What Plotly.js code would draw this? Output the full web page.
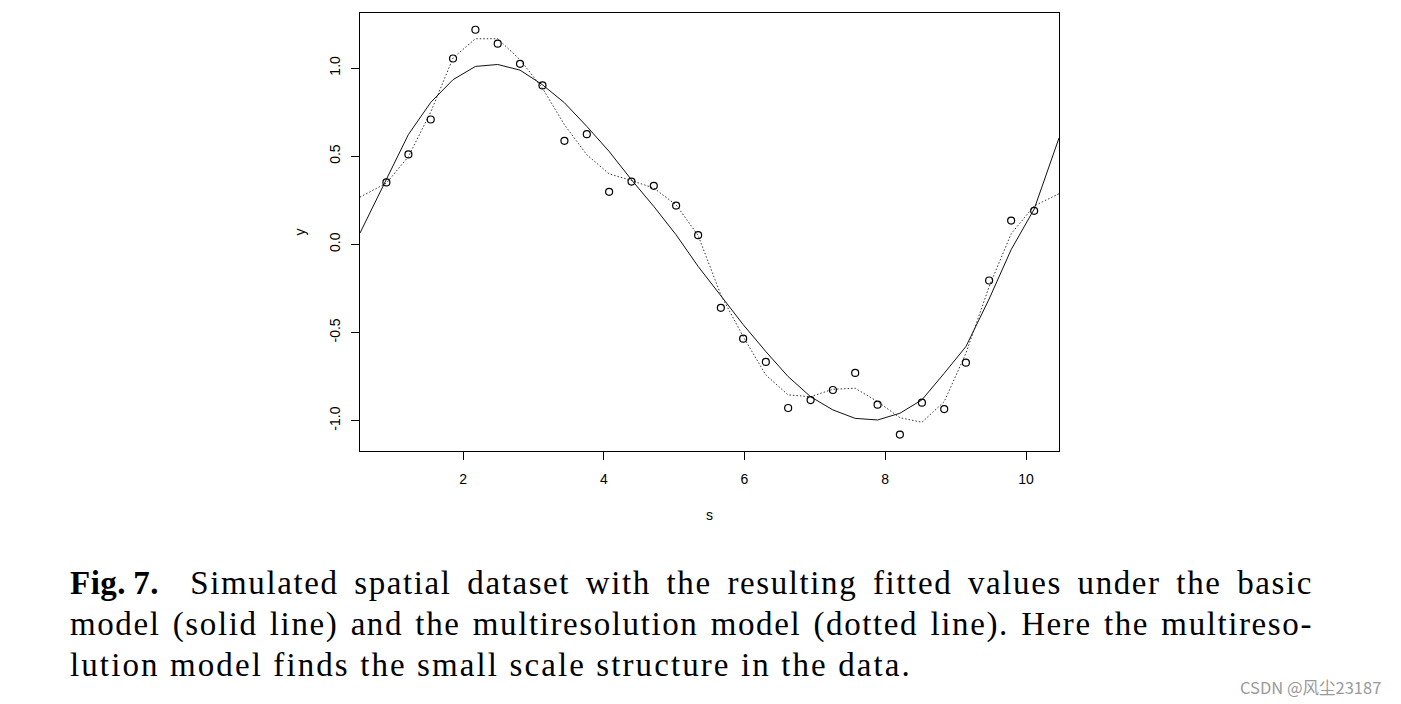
<!DOCTYPE html>
<html>
<head>
<meta charset="utf-8">
<script src="https://cdn.plot.ly/plotly-3.0.1.min.js"></script>
<style>
  html, body { margin: 0; padding: 0; background: #fff; }
  #wrap { position: relative; width: 1401px; height: 704px; overflow: hidden; }
  #chart { position: absolute; left: 0; top: 0; width: 1401px; height: 704px; }
  #caption { position: absolute; left: 70px; top: 563px; width: 1243px;
    font-family: "Liberation Serif", "DejaVu Serif", serif; font-size: 33px; line-height: 41px;
    letter-spacing: 1.6px; color: #000; }
  #caption .ln { text-align: justify; text-align-last: justify; white-space: nowrap; }
  #caption .ln.last { text-align-last: left; letter-spacing: 2.1px; }
  #wm { position: absolute; left: 1240px; top: 675px; font-family: "Noto Sans CJK SC", "Noto Sans", sans-serif;
    font-size: 16.5px; color: #999; white-space: nowrap; }
</style>
</head>
<body>
<div id="wrap">
  <div id="chart"></div>
  <div id="caption">
    <div class="ln"><b style="letter-spacing:0.5px">Fig.&#8201;7.</b>&nbsp; Simulated spatial dataset with the resulting fitted values under the basic</div>
    <div class="ln">model (solid line) and the multiresolution model (dotted line). Here the multireso-</div>
    <div class="ln last">lution model finds the small scale structure in the data.</div>
  </div>
  <div id="wm">CSDN @风尘23187</div>
</div>
<script>
// observed data
const sObs = [0.911, 1.224, 1.541, 1.858, 2.176, 2.493, 2.810, 3.129, 3.441, 3.759,
              4.076, 4.394, 4.711, 5.028, 5.341, 5.664, 5.981, 6.303, 6.620, 6.939,
              7.256, 7.573, 7.891, 8.208, 8.521, 8.838, 9.146, 9.476, 9.789, 10.116];
const yObs = [0.351, 0.510, 0.708, 1.054, 1.217, 1.138, 1.024, 0.901, 0.587, 0.625,
              0.298, 0.356, 0.332, 0.220, 0.052, -0.360, -0.535, -0.667, -0.928, -0.883,
              -0.826, -0.729, -0.909, -1.079, -0.898, -0.934, -0.671, -0.205, 0.135, 0.190];

// fitted-value grid (extends to the frame edges)
const sFit = [0.536, 0.911, 1.224, 1.541, 1.858, 2.176, 2.493, 2.810, 3.129, 3.441, 3.759,
              4.076, 4.394, 4.711, 5.028, 5.341, 5.664, 5.981, 6.303, 6.620, 6.939,
              7.256, 7.573, 7.891, 8.208, 8.521, 8.838, 9.146, 9.476, 9.789, 10.116, 10.469];
// basic model (solid line)
const yBasic = [0.064, 0.364, 0.623, 0.805, 0.934, 1.009, 1.020, 0.988, 0.905, 0.803, 0.669,
                0.527, 0.366, 0.215, 0.054, -0.125, -0.293, -0.455, -0.608, -0.750, -0.864,
                -0.939, -0.987, -0.996, -0.958, -0.882, -0.731, -0.580, -0.310, -0.030, 0.200, 0.603];
// multiresolution model (dotted line)
const yMulti = [0.268, 0.347, 0.498, 0.750, 1.057, 1.166, 1.166, 1.047, 0.886, 0.678, 0.508,
                0.400, 0.362, 0.319, 0.224, 0.050, -0.287, -0.523, -0.741, -0.854, -0.864,
                -0.822, -0.816, -0.892, -0.983, -1.009, -0.892, -0.618, -0.240, 0.060, 0.218, 0.287];

const xTicks = [2, 4, 6, 8, 10];
const yTicks = [-1.0, -0.5, 0.0, 0.5, 1.0];
const yTickText = ['-1.0', '-0.5', '0.0', '0.5', '1.0'];

const traces = [
  { x: sFit, y: yMulti, mode: 'lines', line: { color: '#333', width: 1, dash: '1.5px,2px' }, hoverinfo: 'skip', name: 'multiresolution' },
  { x: sFit, y: yBasic, mode: 'lines', line: { color: '#111', width: 1 }, hoverinfo: 'skip', name: 'basic' },
  { x: sObs, y: yObs, mode: 'markers', marker: { symbol: 'circle-open', size: 7, color: '#000', line: { width: 1.2, color: '#000' } }, name: 'data' }
];

const axisFont = { family: 'Liberation Sans, Arial, sans-serif', size: 14, color: '#000' };

const layout = {
  width: 1401, height: 704,
  margin: { l: 360, r: 342, t: 13, b: 253, pad: 0 },
  paper_bgcolor: 'rgba(0,0,0,0)', plot_bgcolor: '#fff',
  showlegend: false,
  font: axisFont,
  xaxis: {
    range: [0.536, 10.469], autorange: false,
    tickmode: 'array', tickvals: xTicks, ticktext: xTicks.map(String),
    ticks: 'outside', ticklen: 8, tickwidth: 1, tickcolor: '#000',
    ticklabelstandoff: 7,
    showgrid: false, zeroline: false,
    showline: true, mirror: true, linecolor: '#000', linewidth: 1,
    tickfont: axisFont,
    title: { text: 's', font: axisFont, standoff: 24 },
    automargin: false
  },
  yaxis: {
    range: [-1.172, 1.312], autorange: false,
    tickmode: 'array', tickvals: yTicks, ticktext: yTickText,
    ticks: 'outside', ticklen: 8, tickwidth: 1, tickcolor: '#000',
    tickangle: -90, ticklabelstandoff: 5,
    showgrid: false, zeroline: false,
    showline: true, mirror: true, linecolor: '#000', linewidth: 1,
    tickfont: axisFont,
    title: { text: 'y', font: axisFont, standoff: 18 },
    automargin: false
  }
};

Plotly.newPlot('chart', traces, layout, { displayModeBar: false, staticPlot: true });
</script>
</body>
</html>
